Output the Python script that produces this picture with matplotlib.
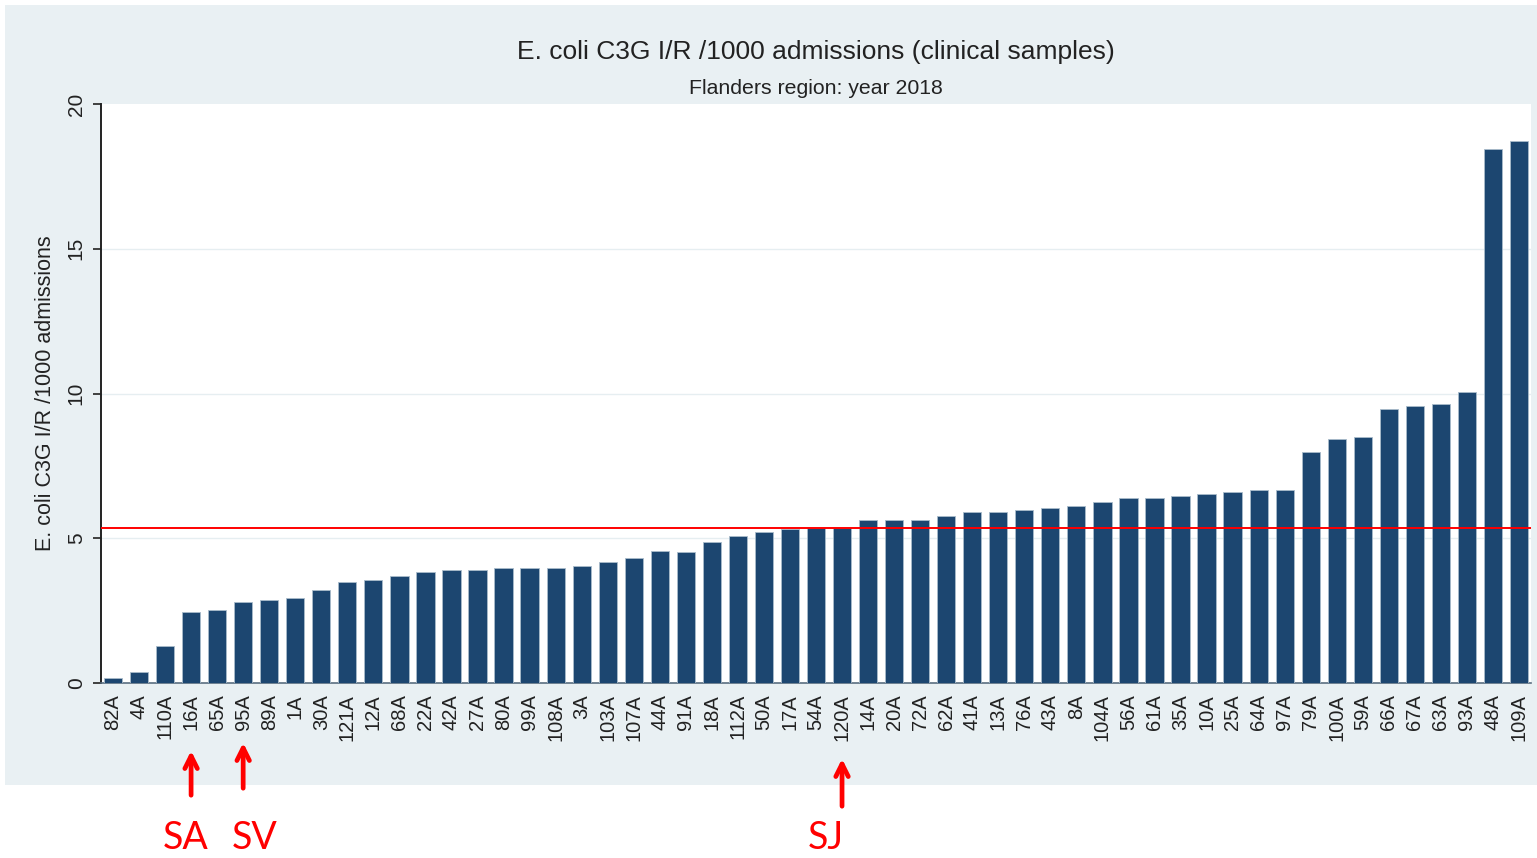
import matplotlib
matplotlib.use("Agg")
import matplotlib.pyplot as plt
from matplotlib.patches import Rectangle

plt.rcParams['font.family'] = ['Liberation Sans', 'DejaVu Sans']

hospitals = ["82A", "4A", "110A", "16A", "65A", "95A", "89A", "1A", "30A", "121A",
             "12A", "68A", "22A", "42A", "27A", "80A", "99A", "108A", "3A", "103A",
             "107A", "44A", "91A", "18A", "112A", "50A", "17A", "54A", "120A", "14A",
             "20A", "72A", "62A", "41A", "13A", "76A", "43A", "8A", "104A", "56A",
             "61A", "35A", "10A", "25A", "64A", "97A", "79A", "100A", "59A", "66A",
             "67A", "63A", "93A", "48A", "109A"]
rates = [0.17, 0.38, 1.28, 2.45, 2.52, 2.80, 2.87, 2.94, 3.21, 3.49,
         3.56, 3.70, 3.83, 3.90, 3.90, 3.97, 3.97, 3.97, 4.04, 4.18,
         4.32, 4.56, 4.52, 4.87, 5.08, 5.22, 5.32, 5.35, 5.35, 5.63,
         5.63, 5.63, 5.77, 5.91, 5.91, 5.98, 6.04, 6.11, 6.25, 6.39,
         6.39, 6.46, 6.53, 6.60, 6.67, 6.67, 7.98, 8.43, 8.50, 9.46,
         9.57, 9.64, 10.05, 18.45, 18.72]
regional_mean = 5.35
yticks = [0, 5, 10, 15, 20]
highlights = [("16A", "SA", 186, 748, 798), ("95A", "SV", 255, 740, 791), ("120A", "SJ", 826, 756, 809)]

W, H = 1537, 858
fig = plt.figure(figsize=(W / 100, H / 100), dpi=100)
fig.patch.set_facecolor("white")

# light panel
panel_color = "#e9f0f3"
fig.add_artist(Rectangle((5 / W, 1 - 785 / H), (W - 5) / W, (785 - 5) / H,
                         transform=fig.transFigure, facecolor=panel_color,
                         edgecolor="none", zorder=0))

left, right, top, bottom = 101, 1531, 104, 683
ax = fig.add_axes([left / W, 1 - bottom / H, (right - left) / W, (bottom - top) / H])
ax.set_facecolor("white")

x = list(range(len(hospitals)))
ax.bar(x, rates, width=0.7, color="#1c4670", edgecolor="#a9bccb", linewidth=0.6, zorder=3)
ax.axhline(regional_mean, color="#ff0000", linewidth=1.4, zorder=4)

ax.set_xlim(-0.46, len(hospitals) - 0.54)
ax.set_ylim(0, 20)
ax.set_yticks(yticks)
ax.set_yticklabels([str(t) for t in yticks], rotation=90, va="center", fontsize=15)
for t in yticks[1:-1]:
    ax.axhline(t, color="#e6eef1", linewidth=1.0, zorder=1)

ax.set_xticks(x)
ax.set_xticklabels(hospitals, rotation=90, fontsize=14.5, color="#222222")
ax.tick_params(axis="x", length=0, pad=8)
ax.tick_params(axis="y", length=6, width=1.2, pad=5, colors="#222222")

for s in ["top", "right"]:
    ax.spines[s].set_visible(False)
ax.spines["left"].set_color("#222222")
ax.spines["left"].set_linewidth(1.4)
ax.spines["bottom"].set_color("#5a6e80")
ax.spines["bottom"].set_linewidth(1.2)

ax.set_ylabel("E. coli C3G I/R /1000 admissions", fontsize=15.5, labelpad=8, color="#222222")

fig.text(816 / W, 1 - 52 / H, "E. coli C3G I/R /1000 admissions (clinical samples)",
         ha="center", va="center", fontsize=19, color="#222222")
fig.text(816 / W, 1 - 88 / H, "Flanders region: year 2018",
         ha="center", va="center", fontsize=15.3, color="#222222")

for code, label, tx, ytop, ybot in highlights:
    i = hospitals.index(code)
    ax.annotate("", xy=(i, H - ytop), xytext=(i, H - ybot),
                xycoords=("data", "figure pixels"), textcoords=("data", "figure pixels"),
                arrowprops=dict(arrowstyle="->,head_length=0.9,head_width=0.45",
                                color="#ff0000", linewidth=3.4),
                annotation_clip=False)
    fig.text(tx / W, 1 - 838 / H, label, ha="center", va="center",
             fontsize=27, color="#ff0000", family=["Lato", "DejaVu Sans"])

fig.savefig("out.png", dpi=100, facecolor=fig.get_facecolor())
